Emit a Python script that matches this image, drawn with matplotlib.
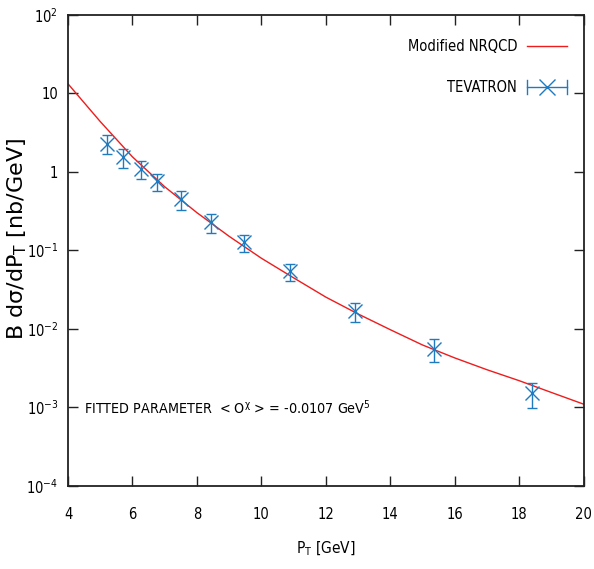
import os
import numpy as np
import matplotlib
matplotlib.use("Agg")
import matplotlib.pyplot as plt
import matplotlib.ticker as ticker
from matplotlib import font_manager
from matplotlib.font_manager import FontProperties
from matplotlib.legend_handler import HandlerBase
from matplotlib.lines import Line2D
from matplotlib.container import ErrorbarContainer

# theory curve
curve_pt = [4, 5, 6, 7, 8, 9, 10, 11, 12, 13, 14, 15, 16, 17, 18, 19, 20]
curve_val = [13.2, 4.37, 1.55, 0.646, 0.302, 0.151, 0.0794, 0.0447, 0.0254,
             0.0155, 0.00977, 0.00624, 0.00427, 0.00302, 0.00219, 0.00155, 0.0011]

# TEVATRON points
data_pt = [5.2, 5.7, 6.25, 6.75, 7.5, 8.45, 9.45, 10.9, 12.9, 15.35, 18.4]
data_val = [2.29, 1.55, 1.10, 0.76, 0.45, 0.227, 0.126, 0.054, 0.0168, 0.0056, 0.00152]
data_err = [0.62, 0.43, 0.28, 0.19, 0.12, 0.063, 0.031, 0.0135, 0.0045, 0.0018, 0.00055]

x_ticks = [4, 6, 8, 10, 12, 14, 16, 18, 20]
y_ticks = [1e-4, 1e-3, 1e-2, 1e-1, 1, 10, 100]

RED = "#ee1c1c"
BLUE = "#1f7bc0"

# gnuplot used a narrow font; look for a condensed face by file name
files = {os.path.basename(f.fname): f.fname for f in font_manager.fontManager.ttflist}
if "DejaVuSansCondensed.ttf" in files:
    path, FS = files["DejaVuSansCondensed.ttf"], 10.55
elif "LiberationSansNarrow-Regular.ttf" in files:
    path, FS = files["LiberationSansNarrow-Regular.ttf"], 12.8
else:
    path, FS = None, 9.6


def fprop(size):
    if path:
        return FontProperties(fname=path, size=size)
    return FontProperties(family="DejaVu Sans", size=size)


class HandlerHErr(HandlerBase):
    """horizontal error bar sample like gnuplot's key"""

    def create_artists(self, legend, orig_handle, xdescent, ydescent,
                       width, height, fontsize, trans):
        y = height / 2 - ydescent
        x0, x1 = -xdescent, width - xdescent
        cap = 5
        bar = Line2D([x0, x1], [y, y], color=BLUE, lw=1, transform=trans)
        c0 = Line2D([x0, x0], [y - cap, y + cap], color=BLUE, lw=1, transform=trans)
        c1 = Line2D([x1, x1], [y - cap, y + cap], color=BLUE, lw=1, transform=trans)
        mk = Line2D([(x0 + x1) / 2], [y], marker="x", ms=11, mew=1,
                    color=BLUE, transform=trans)
        return [bar, c0, c1, mk]


fig = plt.figure(figsize=(5.94, 5.69), dpi=100)
ax = fig.add_axes([0.1145, 0.146, 0.868, 0.828])

ax.plot(curve_pt, curve_val, color=RED, lw=1, label="Modified NRQCD")
eb = ax.errorbar(data_pt, data_val, yerr=data_err, fmt="x", color=BLUE,
                 ms=10, mew=1, elinewidth=1, capsize=3.6, capthick=1,
                 label="TEVATRON")

ax.set_yscale("log")
ax.set_xlim(4, 20)
ax.set_ylim(1e-4, 1e2)
ax.set_xticks(x_ticks)
ax.set_yticks(y_ticks)
ax.yaxis.set_minor_locator(ticker.NullLocator())


def ylab(v, pos):
    if v == 1:
        return "1"
    if v == 10:
        return "10"
    return r"$\mathregular{10^{%d}}$" % int(round(np.log10(v)))


ax.yaxis.set_major_formatter(ticker.FuncFormatter(ylab))
ax.xaxis.set_major_formatter(ticker.FuncFormatter(lambda v, p: "%d" % v))

ax.tick_params(which="both", direction="in", top=True, right=True,
               length=7, width=1, color="#222222")
ax.tick_params(axis="x", pad=15)
ax.tick_params(axis="y", pad=7)
for lbl in ax.get_xticklabels() + ax.get_yticklabels():
    lbl.set_fontproperties(fprop(FS))
for s in ax.spines.values():
    s.set_linewidth(1.3)
    s.set_color("#222222")

ax.set_xlabel(r"P$_\mathregular{T}$ [GeV]", fontproperties=fprop(FS * 1.05))
ax.xaxis.set_label_coords(0.5, -0.113)
ax.set_ylabel(r"B d$\mathregular{σ}$/dP$_\mathregular{T}$ [nb/GeV]",
              fontproperties=FontProperties(family="DejaVu Sans", size=16))
ax.yaxis.set_label_coords(-0.075, 0.525)

ax.text(4.5, 1e-3, r"FITTED PARAMETER  < O$^\mathregular{χ}$ > = -0.0107 GeV$^\mathregular{5}$",
        fontproperties=fprop(FS * 0.975), va="center", ha="left")

ax.legend(handles=[ax.lines[0], eb], labels=["Modified NRQCD", "TEVATRON"],
          handler_map={ErrorbarContainer: HandlerHErr()},
          loc="upper right", bbox_to_anchor=(0.968, 0.949), frameon=False,
          borderaxespad=0, borderpad=0,
          markerfirst=False, prop=fprop(FS), handlelength=2.73, handletextpad=0.68,
          labelspacing=1.8)

fig.savefig("out.png", dpi=100)
